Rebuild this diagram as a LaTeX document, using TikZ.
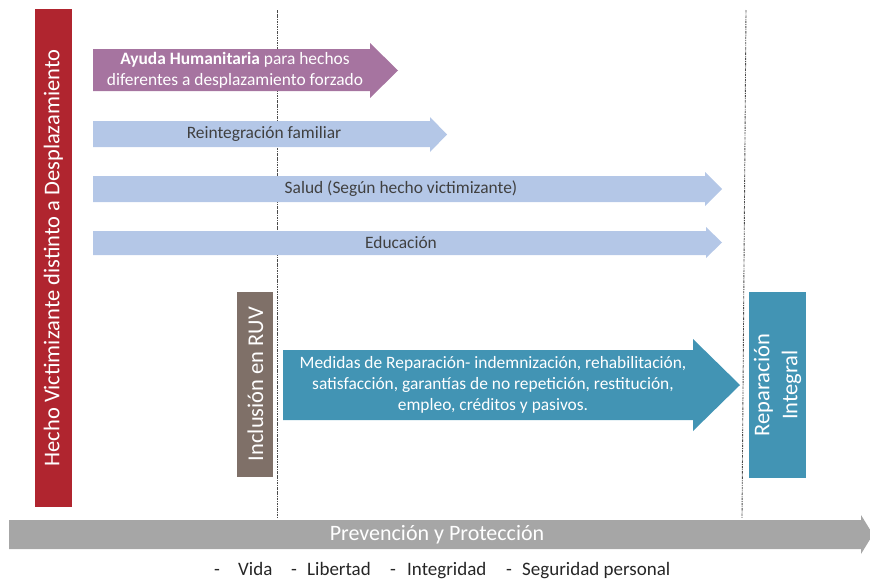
\documentclass[tikz,border=0pt]{standalone}
\usepackage{fontspec}
\setmainfont{Carlito}
\definecolor{hechored}{RGB}{176,37,47}
\definecolor{purp}{RGB}{166,116,160}
\definecolor{lblue}{RGB}{180,199,231}
\definecolor{teal}{RGB}{66,148,180}
\definecolor{brown}{RGB}{127,112,104}
\definecolor{pgray}{RGB}{166,166,166}
\definecolor{dtext}{RGB}{64,64,64}
\tikzset{
  wt/.style={text=white, inner sep=0pt},
  dt/.style={text=dtext, inner sep=0pt},
  sepline/.style={draw=black!70, line width=0.9pt, dash pattern=on 2.5pt off 1pt on 0.8pt off 1pt},
  fs/.style={font=\fontsize{17.4}{21}\selectfont},
  bl/.style={text=black!85, inner sep=0pt, anchor=base west, font=\fontsize{19}{22}\selectfont},
}
\begin{document}
\begin{tikzpicture}[x=1pt,y=-1pt]
\useasboundingbox (0,0) rectangle (870,579);
% separator lines
\coordinate (l1t) at (277,10); \coordinate (l1b) at (277,518);
\coordinate (l2t) at (746,10); \coordinate (l2b) at (742,518);
\draw[sepline] (l1t) -- (l1b);
\draw[sepline] (l2t) -- (l2b);
% red bar
\fill[hechored] (35,9) rectangle (72,507);
\node[wt, rotate=90, font=\fontsize{22.5}{26}\selectfont] (hecho) at (53.5,258) {Hecho Victimizante distinto a Desplazamiento};
% purple arrow
\fill[purp] (93,49) -- (370,49) -- (370,43) -- (398,70.5) -- (370,98) -- (370,91) -- (93,91) -- cycle;
\node[wt, fs, align=center] (ayuda) at (235,70.5) {\textbf{Ayuda Humanitaria} para hechos\\diferentes a desplazamiento forzado};
% reintegracion
\fill[lblue] (93,121) -- (430,121) -- (430,117) -- (447,134.5) -- (430,152) -- (430,147) -- (93,147) -- cycle;
\node[dt, fs] (reint) at (264,134) {Reintegración familiar};
% salud
\fill[lblue] (93,176) -- (705,176) -- (705,172) -- (722,189) -- (705,206) -- (705,202) -- (93,202) -- cycle;
\node[dt, fs] (salud) at (401,189) {Salud (Según hecho victimizante)};
% educacion
\fill[lblue] (93,231) -- (706,231) -- (706,227) -- (722,242.5) -- (706,258) -- (706,255) -- (93,255) -- cycle;
\node[dt, fs] (educ) at (401,242.5) {Educación};
% inclusion RUV
\fill[brown] (237,292) rectangle (273,477);
\node[wt, rotate=90, font=\fontsize{22.5}{26}\selectfont] (ruv) at (255.5,384) {Inclusión en RUV};
% medidas arrow
\fill[teal] (283,350) -- (693,350) -- (693,339) -- (740,385) -- (693,431) -- (693,420) -- (283,420) -- cycle;
\node[wt, align=center, font=\fontsize{17.4}{21}\selectfont] (medidas) at (493,385) {Medidas de Reparación- indemnización, rehabilitación,\\satisfacción, garantías de no repetición, restitución,\\empleo, créditos y pasivos.};
% reparacion integral
\fill[teal] (749,292) rectangle (806,478);
\node[wt, rotate=90, align=center, font=\fontsize{22.5}{28}\selectfont] (repint) at (777.5,385) {Reparación\\Integral};
% prevencion arrow
\fill[pgray] (9,520) -- (861,520) -- (861,515) -- (873,534.5) -- (861,554) -- (861,549) -- (9,549) -- cycle;
\node[wt, font=\fontsize{22}{26}\selectfont] (prev) at (437,534.5) {Prevención y Protección};
% bottom list
\node[bl] (h1) at (214,575) {-};
\node[bl] (w1) at (238,575) {Vida};
\node[bl] (h2) at (291,575) {-};
\node[bl] (w2) at (307,575) {Libertad};
\node[bl] (h3) at (390,575) {-};
\node[bl] (w3) at (407,575) {Integridad};
\node[bl] (h4) at (506,575) {-};
\node[bl] (w4) at (522,575) {Seguridad personal};
\end{tikzpicture}
\end{document}
